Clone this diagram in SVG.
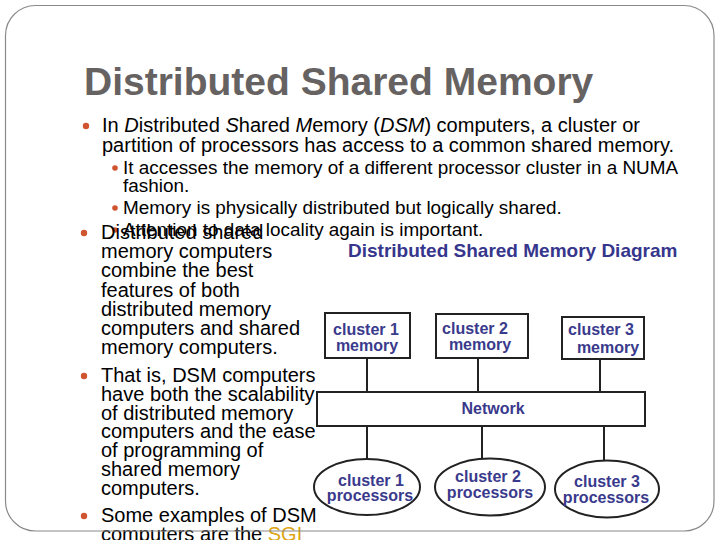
<svg xmlns="http://www.w3.org/2000/svg" width="720" height="540" viewBox="0 0 720 540">
<style>
.title{font-family:"Liberation Sans",Arial,sans-serif;font-weight:bold;font-size:39px;fill:#676262}
.body{font-family:"Liberation Sans",Arial,sans-serif;font-size:20px;fill:#000}
.sub{font-family:"Liberation Sans",Arial,sans-serif;font-size:18.9px;fill:#000}
.dot{fill:#cf5430}
.dlabel{font-family:"Liberation Sans",Arial,sans-serif;font-weight:bold;font-size:16px;fill:#3a3a8c;text-anchor:middle}
.dtitle{font-family:"Liberation Sans",Arial,sans-serif;font-weight:bold;font-size:19px;fill:#36368c}
.box{fill:#fff;stroke:#222;stroke-width:2}
.conn{stroke:#222;stroke-width:2;fill:none}
</style>
<rect width="720" height="540" fill="#fff"/>
<text class="title" x="84" y="95">Distributed Shared Memory</text>
<g id="bullets">
<circle class="dot" cx="86" cy="126" r="3.2"/>
<text class="body" x="102" y="132">In <tspan font-style="italic">D</tspan>istributed <tspan font-style="italic">S</tspan>hared <tspan font-style="italic">M</tspan>emory (<tspan font-style="italic">DSM</tspan>) computers, a cluster or</text>
<text class="body" x="102" y="152">partition of processors has access to a common shared memory.</text>
<circle class="dot" cx="115" cy="168" r="2.8"/>
<text class="sub" x="123" y="174">It accesses the memory of a different processor cluster in a NUMA</text>
<text class="sub" x="123" y="192">fashion.</text>
<circle class="dot" cx="115" cy="208" r="2.8"/>
<text class="sub" x="123" y="214">Memory is physically distributed but logically shared.</text>
<circle class="dot" cx="115" cy="230" r="2.8"/>
<text class="sub" x="123" y="236">Attention to data locality again is important.</text>
<circle class="dot" cx="84" cy="233" r="3.2"/>
<text class="body" x="101" y="239">Distributed shared</text>
<text class="body" x="101" y="258">memory computers</text>
<text class="body" x="101" y="277">combine the best</text>
<text class="body" x="101" y="296.5">features of both</text>
<text class="body" x="101" y="315.5">distributed memory</text>
<text class="body" x="101" y="334.5">computers and shared</text>
<text class="body" x="101" y="353.5">memory computers.</text>
<circle class="dot" cx="84" cy="376" r="3.2"/>
<text class="body" x="101" y="381.5">That is, DSM computers</text>
<text class="body" x="101" y="400.5">have both the scalability</text>
<text class="body" x="101" y="419.5">of distributed memory</text>
<text class="body" x="101" y="438">computers and the ease</text>
<text class="body" x="101" y="456.5">of programming of</text>
<text class="body" x="101" y="475.5">shared memory</text>
<text class="body" x="101" y="494.5">computers.</text>
<circle class="dot" cx="84" cy="516" r="3.2"/>
<text class="body" x="101" y="522">Some examples of DSM</text>
<text class="body" x="101" y="541">computers are the <tspan fill="#dba515">SGI</tspan></text>
</g>
<text class="dtitle" x="348" y="257">Distributed Shared Memory Diagram</text>
<g id="connectors">
<line class="conn" x1="367" y1="358" x2="367" y2="392"/>
<line class="conn" x1="478" y1="358" x2="478" y2="392"/>
<line class="conn" x1="600" y1="359" x2="600" y2="392"/>
<line class="conn" x1="367" y1="426" x2="367" y2="459"/>
<line class="conn" x1="482" y1="426" x2="482" y2="459"/>
<line class="conn" x1="604" y1="426" x2="604" y2="461"/>
</g>
<g id="mem1">
<rect class="box" x="325" y="313" width="85" height="45"/>
<text class="dlabel" x="366" y="335">cluster 1</text>
<text class="dlabel" x="367" y="351">memory</text>
</g>
<g id="mem2">
<rect class="box" x="436" y="314" width="92" height="44"/>
<text class="dlabel" x="475" y="334">cluster 2</text>
<text class="dlabel" x="480" y="350">memory</text>
</g>
<g id="mem3">
<rect class="box" x="562" y="317" width="82" height="42"/>
<text class="dlabel" x="601" y="335">cluster 3</text>
<text class="dlabel" x="608" y="353">memory</text>
</g>
<g id="network">
<rect class="box" x="317" y="392" width="328" height="34"/>
<text class="dlabel" x="493" y="414">Network</text>
</g>
<g id="proc1">
<ellipse class="box" cx="367" cy="487" rx="53" ry="28"/>
<text class="dlabel" x="371" y="486">cluster 1</text>
<text class="dlabel" x="370" y="501">processors</text>
</g>
<g id="proc2">
<ellipse class="box" cx="490" cy="487" rx="55" ry="28.5"/>
<text class="dlabel" x="488" y="482">cluster 2</text>
<text class="dlabel" x="490" y="498">processors</text>
</g>
<g id="proc3">
<ellipse class="box" cx="607" cy="489" rx="52" ry="28.5"/>
<text class="dlabel" x="607" y="487">cluster 3</text>
<text class="dlabel" x="606" y="503">processors</text>
</g>
<rect x="5.5" y="5.5" width="708.5" height="525.5" rx="30" ry="30" fill="none" stroke="#8a8a8a" stroke-width="1.2"/>
</svg>
